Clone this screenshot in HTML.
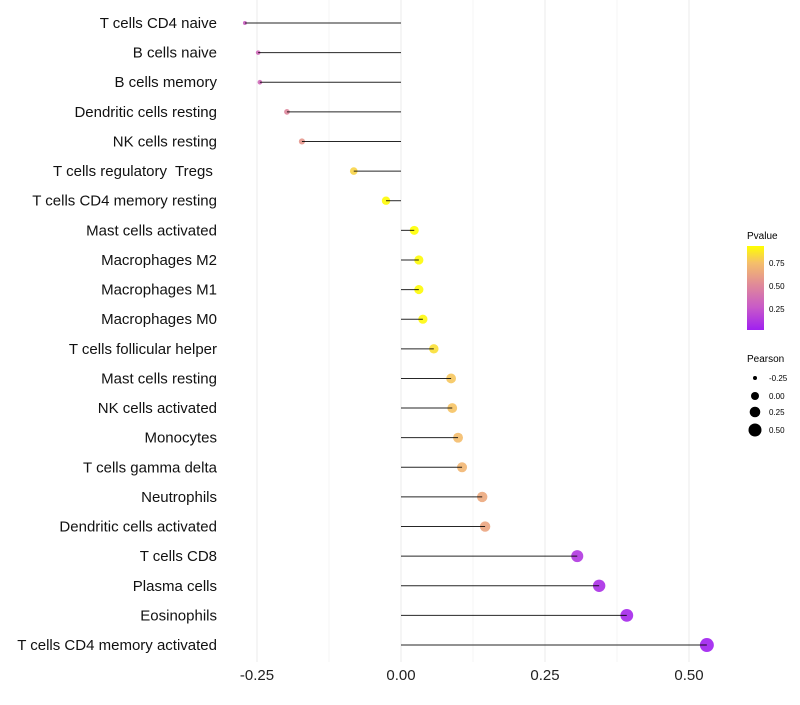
<!DOCTYPE html>
<html><head><meta charset="utf-8"><style>
body{margin:0;background:#fff;font-family:"Liberation Sans",sans-serif}
text{white-space:pre}
</style></head><body>
<svg id="chart" width="800" height="700" xmlns="http://www.w3.org/2000/svg">
<defs><linearGradient id="pg" x1="0" y1="1" x2="0" y2="0">
<stop offset="0" stop-color="#a020f0"/><stop offset="0.27" stop-color="#c85ac8"/><stop offset="0.54" stop-color="#e08a98"/><stop offset="0.8" stop-color="#f5bf6a"/><stop offset="1" stop-color="#ffff00"/></linearGradient></defs>
<g id="grid"></g><g id="marks"></g><g id="labels"></g>
<g>
<text x="747" y="239" font-size="10">Pvalue</text>
<rect x="747" y="246" width="17" height="84" fill="url(#pg)"/>
<text x="769" y="266" font-size="8">0.75</text>
<text x="769" y="289" font-size="8">0.50</text>
<text x="769" y="312" font-size="8">0.25</text>
</g>
<g>
<text x="747" y="362" font-size="10">Pearson</text>
<circle cx="755" cy="378" r="2"/><text x="769" y="381" font-size="8">-0.25</text>
<circle cx="755" cy="396" r="4"/><text x="769" y="399" font-size="8">0.00</text>
<circle cx="755" cy="412" r="5.3"/><text x="769" y="415" font-size="8">0.25</text>
<circle cx="755" cy="430" r="6.5"/><text x="769" y="433" font-size="8">0.50</text>
</g>
</svg>
<script>
const categories=["T cells CD4 naive","B cells naive","B cells memory","Dendritic cells resting","NK cells resting","T cells regulatory  Tregs ","T cells CD4 memory resting","Mast cells activated","Macrophages M2","Macrophages M1","Macrophages M0","T cells follicular helper","Mast cells resting","NK cells activated","Monocytes","T cells gamma delta","Neutrophils","Dendritic cells activated","T cells CD8","Plasma cells","Eosinophils","T cells CD4 memory activated"];
const pearson=[-0.271,-0.248,-0.245,-0.198,-0.172,-0.082,-0.026,0.023,0.031,0.031,0.038,0.057,0.087,0.089,0.099,0.106,0.141,0.146,0.306,0.344,0.392,0.531];
const pvalue=[0.3,0.35,0.35,0.5,0.58,0.82,0.93,0.94,0.93,0.93,0.92,0.85,0.78,0.77,0.75,0.72,0.66,0.64,0.12,0.08,0.05,0.02];
const ticks=[-0.25,0,0.25,0.5];
const tickLabels=["-0.25","0.00","0.25","0.50"];
const NS="http://www.w3.org/2000/svg";
const x=v=>401+v*576;
const y=i=>23+i*29.62;
const stops=[[0.02,[160,32,240]],[0.27,[200,90,200]],[0.52,[224,138,152]],[0.76,[245,191,106]],[0.94,[255,255,0]]];
function col(p){if(p<=stops[0][0])return`rgb(${stops[0][1]})`;for(let k=1;k<stops.length;k++){if(p<=stops[k][0]){const a=stops[k-1],b=stops[k],t=(p-a[0])/(b[0]-a[0]);return`rgb(${a[1].map((c,j)=>Math.round(c+(b[1][j]-c)*t))})`;}}return"rgb(255,255,0)";}
function rad(v){return Math.sqrt(Math.max(3,4+(v+0.27)*56));}
function mk(t,a,p){const e=document.createElementNS(NS,t);for(const k in a)e.setAttribute(k,a[k]);p.appendChild(e);return e;}
const grid=document.getElementById('grid'),marks=document.getElementById('marks'),labels=document.getElementById('labels');
for(let k=0;k<ticks.length;k++){
 const gl=mk('line',{x1:x(ticks[k]),x2:x(ticks[k]),y1:0,y2:662,stroke:'#ebebeb','stroke-width':1},grid);
 
 
 if(k<ticks.length-1){const m=(ticks[k]+ticks[k+1])/2;const ml=mk('line',{x1:x(m),x2:x(m),y1:0,y2:662,stroke:'#f4f4f4','stroke-width':1},grid);
 
 }
 const tl=mk('text',{x:x(ticks[k]),y:680,'font-size':15,'text-anchor':'middle',fill:'#222'},labels);tl.textContent=tickLabels[k];
 
 
}
categories.forEach((c,i)=>{
 const dot=mk('circle',{cx:x(pearson[i]),cy:y(i),r:rad(pearson[i]),fill:col(pvalue[i]),'fill-opacity':0.9},marks);
 
 
 const seg=mk('line',{x1:x(0),x2:x(pearson[i]),y1:y(i),y2:y(i),stroke:'#000','stroke-width':1,'stroke-opacity':0.85},marks);
 
 
 const t=mk('text',{x:217,y:y(i)+5,'font-size':15,'text-anchor':'end',fill:'#111'},labels);t.textContent=c;
 
 
});
</script>
</body></html>
